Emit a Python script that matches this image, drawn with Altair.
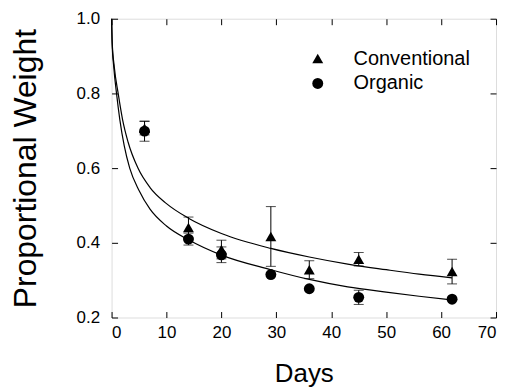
import altair as alt
import pandas as pd

FONT = "Liberation Sans"

series_names = ["Conventional", "Organic"]
days = [6, 14, 20, 29, 36, 45, 62]
conv_mean = [0.707, 0.441, 0.382, 0.417, 0.328, 0.356, 0.323]
conv_err = [0.018, 0.028, 0.025, 0.080, 0.024, 0.018, 0.033]
org_mean = [0.699, 0.410, 0.368, 0.315, 0.277, 0.254, 0.249]
org_err = [0.027, 0.016, 0.021, 0.0, 0.0, 0.019, 0.0]

# fitted curves
conv_curve_days = [0, 0.1, 0.5, 1.2, 2, 3, 4.8, 7, 10, 14, 20, 29, 36, 43, 50, 56, 62]
conv_curve_vals = [1.0, 0.94, 0.87, 0.80, 0.73, 0.67, 0.60, 0.548, 0.505, 0.466, 0.425,
                   0.385, 0.362, 0.343, 0.328, 0.316, 0.306]
org_curve_days = [0, 0.1, 0.4, 0.9, 1.5, 2.3, 3.3, 5, 7, 10, 14, 20, 29, 36, 43, 50, 56, 62]
org_curve_vals = [1.0, 0.935, 0.87, 0.80, 0.73, 0.66, 0.60, 0.54, 0.49, 0.445, 0.408, 0.367,
                  0.328, 0.302, 0.282, 0.268, 0.257, 0.247]

x_ticks = [0, 10, 20, 30, 40, 50, 60, 70]
y_ticks = [0.2, 0.4, 0.6, 0.8, 1.0]

pts = pd.DataFrame({
    "Days": days * 2,
    "Weight": conv_mean + org_mean,
    "Err": conv_err + org_err,
    "Series": [series_names[0]] * len(days) + [series_names[1]] * len(days),
})
pts["Low"] = pts["Weight"] - pts["Err"]
pts["High"] = pts["Weight"] + pts["Err"]
errs = pts[pts["Err"] > 0]

curves = pd.DataFrame({
    "Days": conv_curve_days + org_curve_days,
    "Weight": conv_curve_vals + org_curve_vals,
    "Series": [series_names[0]] * len(conv_curve_days) + [series_names[1]] * len(org_curve_days),
})

xs = alt.Scale(domain=[0, 70], nice=False, zero=False)
ys = alt.Scale(domain=[0.2, 1.0], nice=False, zero=False)

common_axis = dict(domain=False, grid=False, offset=-6, tickSize=6, tickColor="black",
                   tickWidth=1)

x_bottom = alt.Axis(orient="bottom", values=x_ticks, labelPadding=7, labelFontSize=17,
                    labelFont=FONT, labelColor="black", title="Days", titleFontSize=26,
                    titleFont=FONT, titleFontWeight="normal", titleColor="black",
                    titlePadding=20, **common_axis)
y_left = alt.Axis(orient="left", values=y_ticks, format=".1f", labelPadding=12,
                  labelFontSize=17, labelFont=FONT, labelColor="black",
                  title="Proportional Weight", titleFontSize=32, titleFont=FONT,
                  titleFontWeight="normal", titleColor="black", titlePadding=34,
                  **common_axis)
x_top = alt.Axis(orient="top", values=x_ticks, labels=False, title=None, **common_axis)
y_right = alt.Axis(orient="right", values=y_ticks, labels=False, title=None, **common_axis)

curve_layer = alt.Chart(curves).mark_line(color="black", strokeWidth=1.2,
                                          interpolate="monotone").encode(
    x=alt.X("Days:Q", scale=xs, axis=x_bottom),
    y=alt.Y("Weight:Q", scale=ys, axis=y_left),
    detail="Series:N",
)

err_layer = alt.Chart(errs).mark_errorbar(
    ticks={"size": 10, "thickness": 1, "color": "black"},
    color="black", thickness=1,
).encode(
    x=alt.X("Days:Q", scale=xs, axis=x_top),
    y=alt.Y("Low:Q", scale=ys, axis=y_right),
    y2="High:Q",
)

point_layer = alt.Chart(pts).mark_point(filled=True, color="black", opacity=1, size=120).encode(
    x=alt.X("Days:Q", scale=xs, axis=None),
    y=alt.Y("Weight:Q", scale=ys, axis=None),
    shape=alt.Shape("Series:N",
                    scale=alt.Scale(domain=series_names, range=["triangle-up", "circle"]),
                    legend=alt.Legend(title=None, orient="none", legendX=197, legendY=30,
                                      labelFontSize=20, labelFont=FONT, labelColor="black",
                                      symbolSize=120, symbolFillColor="black",
                                      symbolStrokeColor="black",
                                      labelOffset=26, rowPadding=5, padding=0)),
)

chart = alt.layer(curve_layer, err_layer, point_layer).resolve_axis(
    x="independent", y="independent"
).properties(
    width=386, height=300,
    autosize=alt.AutoSizeParams(type="none"),
    padding={"left": 104, "top": 10, "right": 5, "bottom": 70},
).configure_view(stroke="black", strokeWidth=1.5).configure(background="white")

chart.save("out.html", embed_options={"renderer": "svg", "actions": False})
